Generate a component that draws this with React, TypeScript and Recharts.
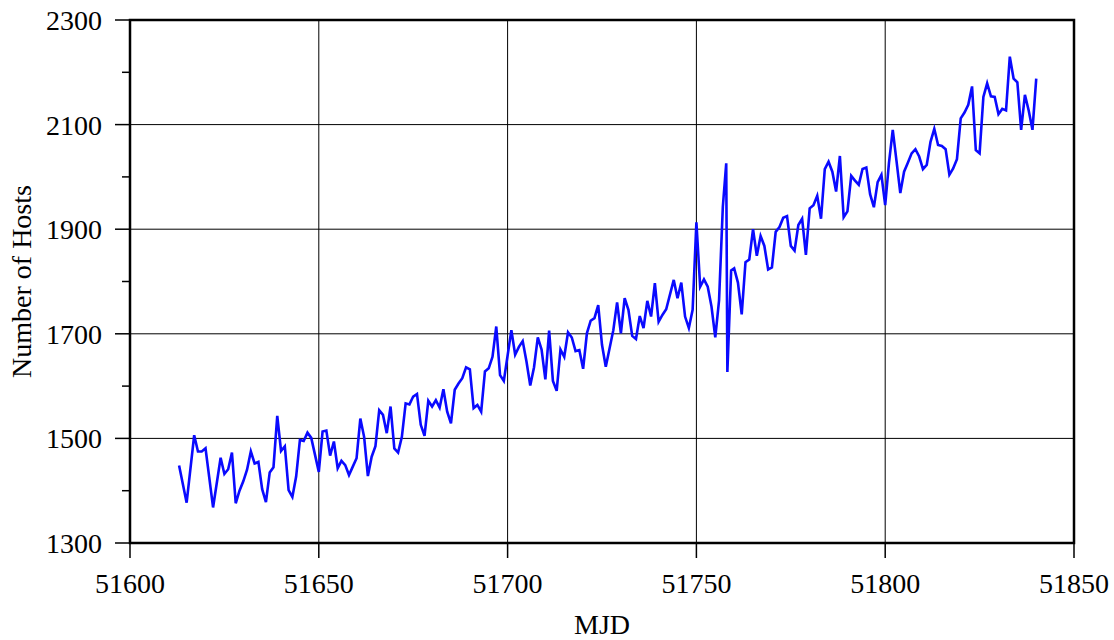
import {
  CartesianGrid,
  Line,
  LineChart,
  ReferenceArea,
  XAxis,
  YAxis,
} from "recharts";

// Daily host counts by Modified Julian Date
const mjdDays = [
  51613, 51615, 51617, 51618, 51619, 51620, 51622, 51624, 51625, 51626,
  51627, 51628, 51629, 51630, 51631, 51632, 51633, 51634, 51635, 51636,
  51637, 51638, 51639, 51640, 51641, 51642, 51643, 51644, 51645, 51646,
  51647, 51648, 51650, 51651, 51652, 51653, 51654, 51655, 51656, 51657,
  51658, 51659, 51660, 51661, 51662, 51663, 51664, 51665, 51666, 51667,
  51668, 51669, 51670, 51671, 51672, 51673, 51674, 51675, 51676, 51677,
  51678, 51679, 51680, 51681, 51682, 51683, 51684, 51685, 51686, 51687,
  51688, 51689, 51690, 51691, 51692, 51693, 51694, 51695, 51696, 51697,
  51698, 51699, 51701, 51702, 51703, 51704, 51705, 51706, 51707, 51708,
  51709, 51710, 51711, 51712, 51713, 51714, 51715, 51716, 51717, 51718,
  51719, 51720, 51721, 51722, 51723, 51724, 51725, 51726, 51728, 51729,
  51730, 51731, 51732, 51733, 51734, 51735, 51736, 51737, 51738, 51739,
  51740, 51741, 51742, 51744, 51745, 51746, 51747, 51748, 51749, 51750,
  51751, 51752, 51753, 51754, 51755, 51756, 51757, 51757.9, 51758.2, 51759.2,
  51760, 51761, 51762, 51763, 51764, 51765, 51766, 51767, 51768, 51769,
  51770, 51771, 51772, 51773, 51774, 51775, 51776, 51777, 51778, 51779,
  51780, 51781, 51782, 51783, 51784, 51785, 51786, 51787, 51788, 51789,
  51790, 51791, 51792, 51793, 51794, 51795, 51796, 51797, 51798, 51799,
  51800, 51801, 51802, 51803, 51804, 51805, 51806, 51807, 51808, 51809,
  51810, 51811, 51812, 51813, 51814, 51815, 51816, 51817, 51818, 51819,
  51820, 51821, 51822, 51823, 51824, 51825, 51826, 51827, 51828, 51829,
  51830, 51831, 51832, 51833, 51834, 51835, 51836, 51837, 51838, 51839,
  51840,
];

const hostCounts = [
  1448, 1377, 1506, 1475, 1475, 1481, 1368, 1463, 1432, 1441,
  1473, 1376, 1400, 1418, 1440, 1475, 1452, 1455, 1403, 1378,
  1435, 1445, 1543, 1476, 1485, 1401, 1388, 1427, 1497, 1495,
  1511, 1501, 1436, 1513, 1515, 1467, 1494, 1443, 1457, 1449,
  1430, 1446, 1462, 1538, 1503, 1428, 1465, 1485, 1554, 1545,
  1510, 1561, 1481, 1473, 1503, 1567, 1565, 1580, 1585, 1526,
  1505, 1572, 1561, 1573, 1559, 1594, 1551, 1529, 1593, 1605,
  1615, 1636, 1632, 1558, 1564, 1551, 1628, 1634, 1656, 1714,
  1621, 1610, 1707, 1660, 1675, 1686, 1647, 1601, 1636, 1693,
  1670, 1613, 1706, 1610, 1591, 1670, 1656, 1703, 1693, 1667,
  1669, 1633, 1701, 1725, 1730, 1755, 1679, 1637, 1707, 1760,
  1701, 1768, 1746, 1696, 1690, 1734, 1711, 1763, 1733, 1797,
  1723, 1736, 1747, 1803, 1768, 1798, 1733, 1711, 1746, 1913,
  1790, 1804, 1790, 1752, 1693, 1764, 1943, 2026, 1627, 1821,
  1825, 1798, 1737, 1837, 1842, 1900, 1849, 1887, 1868, 1823,
  1827, 1895, 1904, 1922, 1925, 1868, 1859, 1908, 1920, 1851,
  1940, 1946, 1964, 1920, 2015, 2029, 2010, 1972, 2040, 1923,
  1934, 2002, 1993, 1985, 2015, 2018, 1967, 1942, 1990, 2004,
  1946, 2027, 2090, 2030, 1969, 2010, 2027, 2045, 2053, 2039,
  2015, 2023, 2067, 2092, 2061, 2059, 2053, 2004, 2016, 2034,
  2112, 2123, 2138, 2173, 2051, 2045, 2153, 2179, 2154, 2153,
  2120, 2130, 2127, 2230, 2188, 2181, 2090, 2157, 2127, 2090,
  2188,
];

const xTicks = [51600, 51650, 51700, 51750, 51800, 51850];
const xGrid = [51650, 51700, 51750, 51800];
const yTicks = [1300, 1400, 1500, 1600, 1700, 1800, 1900, 2000, 2100, 2200, 2300];
const yLabelled = [1300, 1500, 1700, 1900, 2100, 2300];
const yGrid = [1500, 1700, 1900, 2100];

const FONT = "'Liberation Serif', 'Times New Roman', serif";

const data = mjdDays.map((mjd, i) => ({ mjd, hosts: hostCounts[i] }));

function XTick({ x, y, payload }: any) {
  return (
    <g>
      <line x1={x} y1={y} x2={x} y2={y + 15} stroke="#000" strokeWidth={1.5} />
      <text x={x} y={y + 50} textAnchor="middle" fontFamily={FONT} fontSize={28} fill="#000">
        {payload.value}
      </text>
    </g>
  );
}

function YTick({ x, y, payload }: any) {
  const major = yLabelled.includes(payload.value);
  return (
    <g>
      <line x1={x - (major ? 15 : 8)} y1={y} x2={x} y2={y} stroke="#000" strokeWidth={1.5} />
      {major && (
        <text x={x - 28} y={y + 10} textAnchor="end" fontFamily={FONT} fontSize={28} fill="#000">
          {payload.value}
        </text>
      )}
    </g>
  );
}

export default function App() {
  return (
    <div style={{ position: "absolute", left: 0, top: 0, width: 1114, height: 640, background: "#fff" }}>
      <LineChart width={1114} height={640} data={data} margin={{ top: 20, right: 40, bottom: 0, left: 20 }}>
        <CartesianGrid
          horizontalValues={yGrid}
          verticalValues={xGrid}
          stroke="#000"
          strokeWidth={1}
        />
        <XAxis
          dataKey="mjd"
          type="number"
          domain={[51600, 51850]}
          ticks={xTicks}
          allowDataOverflow
          height={97}
          axisLine={false}
          tickLine={false}
          tickSize={0}
          tickMargin={0}
          tick={<XTick />}
          label={(p: any) => (
            <text
              x={p.viewBox.x + p.viewBox.width / 2}
              y={634}
              textAnchor="middle"
              fontFamily={FONT}
              fontSize={28}
              fill="#000"
            >
              MJD
            </text>
          )}
        />
        <YAxis
          type="number"
          domain={[1300, 2300]}
          ticks={yTicks}
          allowDataOverflow
          width={110}
          axisLine={false}
          tickLine={false}
          tickSize={0}
          tickMargin={0}
          tick={<YTick />}
          label={(p: any) => {
            const cy = p.viewBox.y + p.viewBox.height / 2;
            return (
              <text
                x={31}
                y={cy}
                transform={`rotate(-90, 31, ${cy})`}
                textAnchor="middle"
                fontFamily={FONT}
                fontSize={28}
                fill="#000"
              >
                Number of Hosts
              </text>
            );
          }}
        />
        <Line
          dataKey="hosts"
          type="linear"
          stroke="#0a0aff"
          strokeWidth={2.6}
          dot={false}
          isAnimationActive={false}
        />
        <ReferenceArea
          x1={51600}
          x2={51850}
          y1={1300}
          y2={2300}
          fill="none"
          stroke="#000"
          strokeWidth={2.5}
          ifOverflow="visible"
        />
      </LineChart>
    </div>
  );
}
